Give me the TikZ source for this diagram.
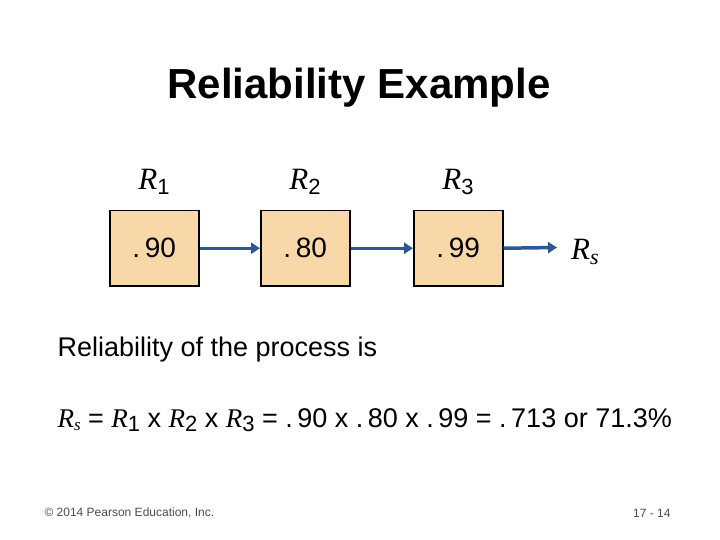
\documentclass[tikz,border=0pt]{standalone}
\usepackage{fontspec}
\setmainfont{Liberation Sans}
\newfontfamily\serifR{Liberation Serif}
\usetikzlibrary{arrows.meta}
\definecolor{boxfill}{HTML}{F8D8A8}
\definecolor{arr}{HTML}{2B5896}
\tikzset{
 cell/.style={draw=black, line width=1.5pt, fill=boxfill, minimum width=89pt, minimum height=75pt, font=\fontsize{28}{30}\selectfont, anchor=north west},
 lab/.style={font=\fontsize{31}{33}\selectfont},
 link/.style={arr, line width=3.5pt, -{Triangle[length=9pt,width=11pt]}},
 txt/.style={font=\fontsize{27}{30}\selectfont, anchor=west}
}
\begin{document}
\begin{tikzpicture}[x=1pt,y=-1pt]
\useasboundingbox (0,0) rectangle (720,540);
\node[font=\bfseries\fontsize{42}{46}\selectfont] (title) at (359,88) {Reliability Example};
\node[lab] (r1) at (154,182) {{\serifR\itshape R}{\fontsize{22}{22}\selectfont\raisebox{-5pt}{1}}};
\node[lab] (r2) at (305,182) {{\serifR\itshape R}{\fontsize{22}{22}\selectfont\raisebox{-5pt}{2}}};
\node[lab] (r3) at (458,182) {{\serifR\itshape R}{\fontsize{22}{22}\selectfont\raisebox{-5pt}{3}}};
\node[cell] (b1) at (109,210) {.\,90};
\node[cell] (b2) at (260,210) {.\,80};
\node[cell] (b3) at (413,210) {.\,99};
\node[lab, anchor=west, inner sep=1pt] (rs) at (570,252) {{\serifR\itshape R}{\fontsize{22}{22}\selectfont\raisebox{-5pt}{\serifR\itshape s}}};
\coordinate (re) at (557,247.5);
\draw[link] (b1.east) -- (b2.west);
\draw[link] (b2.east) -- (b3.west);
\draw[link] (b3.east) -- (re);
\node[txt] (t1) at (54,350) {Reliability of the process is};
\node[txt] (t2) at (54,420) {{\serifR\itshape R}{\fontsize{17}{17}\selectfont\serifR\itshape\raisebox{-3pt}{s}} = {\serifR\itshape R}{\fontsize{22}{22}\selectfont\raisebox{-4pt}{1}} x {\serifR\itshape R}{\fontsize{22}{22}\selectfont\raisebox{-4pt}{2}} x {\serifR\itshape R}{\fontsize{22}{22}\selectfont\raisebox{-4pt}{3}} = .\,90 x .\,80 x .\,99 = .\,713 or 71.3\%};
\node[font=\fontsize{12}{13}\selectfont, text=black!70, anchor=west] (f1) at (41,513) {© 2014 Pearson Education, Inc.};
\node[font=\fontsize{12}{13}\selectfont, text=black!70, anchor=east] (f2) at (674,513) {17 - 14};
\end{tikzpicture}
\end{document}
